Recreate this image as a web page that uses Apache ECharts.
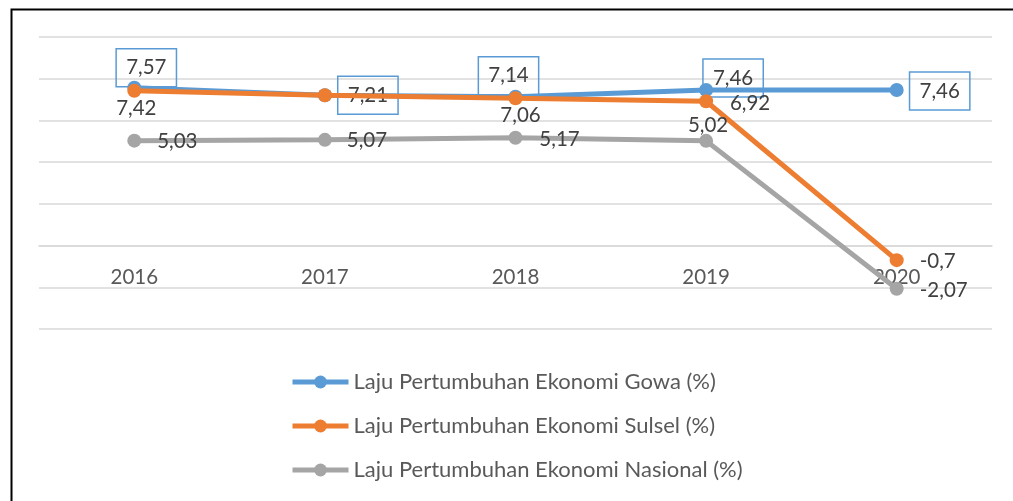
<!DOCTYPE html>
<html>
<head>
<meta charset="utf-8">
<script src="https://cdn.jsdelivr.net/npm/echarts@6/dist/echarts.min.js"></script>
<style>html,body{margin:0;padding:0;background:#fff}#c{width:1013px;height:501px}</style>
</head>
<body>
<div id="c"></div>
<script>
const categories = ['2016', '2017', '2018', '2019', '2020'];
const gowa = [7.57, 7.21, 7.14, 7.46, 7.46];
const sulsel = [7.42, 7.21, 7.06, 6.92, -0.7];
const nasional = [5.03, 5.07, 5.17, 5.02, -2.07];
const seriesNames = ['Laju Pertumbuhan Ekonomi Gowa (%)', 'Laju Pertumbuhan Ekonomi Sulsel (%)', 'Laju Pertumbuhan Ekonomi Nasional (%)'];
const yTicks = { min: -4, max: 10, interval: 2 };

// label centre offsets from each point (style only)
const gowaOff = [[12, -20], [43, 0], [-7, -21], [27, -12], [43, 1]];
const sulselOff = [[2, 18], null, [5, 17], [44, 2], [41, 1]];
const nasOff = [[43, 1], [42, 1], [44, 2], [2, -15], [47, 2]];

const fmt = v => String(v).replace('.', ',');
const FONT = 'Lato';

function build(values, offs, boxed) {
  return values.map((v, i) => {
    const o = offs[i];
    if (!o) return { value: v, label: { show: false } };
    const lab = {
      show: true, position: 'inside', offset: o, align: 'center', verticalAlign: 'middle',
      formatter: () => fmt(v), fontSize: 20.5, color: '#404040', fontFamily: FONT
    };
    if (boxed) {
      Object.assign(lab, { borderColor: '#5B9BD5', borderWidth: 1.5, padding: [9, 10, 8, 10] });
    }
    return { value: v, label: lab };
  });
}

const chart = echarts.init(document.getElementById('c'));
chart.setOption({
  animation: false,
  textStyle: { fontFamily: FONT },
  graphic: [{
    type: 'rect', left: 9, top: 7, silent: true,
    shape: { x: 0, y: 0, width: 1100, height: 600 },
    style: { fill: 'none', stroke: '#000', lineWidth: 2 }
  }],
  grid: { left: 39, right: 21, top: 37, bottom: 172, containLabel: false },
  legend: {
    orient: 'vertical', left: 285, top: 366, itemWidth: 56, itemHeight: 16, itemGap: 22,
    lineStyle: { width: 5 },
    textStyle: { fontSize: 22, color: '#595959', fontFamily: FONT },
    data: seriesNames
  },
  xAxis: {
    type: 'category', data: categories, boundaryGap: true, position: 'bottom', offset: -83,
    axisLine: { show: true, onZero: false, lineStyle: { color: '#D9D9D9', width: 1.5 } },
    axisTick: { show: false },
    axisLabel: { fontSize: 20.5, color: '#595959', margin: 21, fontFamily: FONT }
  },
  yAxis: {
    type: 'value', min: yTicks.min, max: yTicks.max, interval: yTicks.interval,
    axisLabel: { show: false }, axisLine: { show: false }, axisTick: { show: false },
    splitLine: { lineStyle: { color: '#D9D9D9', width: 1.5 } }
  },
  series: [
    { name: seriesNames[0], type: 'line', data: build(gowa, gowaOff, true), symbol: 'circle', symbolSize: 14,
      itemStyle: { color: '#5B9BD5' }, lineStyle: { color: '#5B9BD5', width: 5 }, z: 2 },
    { name: seriesNames[1], type: 'line', data: build(sulsel, sulselOff, false), symbol: 'circle', symbolSize: 14,
      itemStyle: { color: '#ED7D31' }, lineStyle: { color: '#ED7D31', width: 5 }, z: 3 },
    { name: seriesNames[2], type: 'line', data: build(nasional, nasOff, false), symbol: 'circle', symbolSize: 14,
      itemStyle: { color: '#A5A5A5' }, lineStyle: { color: '#A5A5A5', width: 5 }, z: 4 }
  ]
});
</script>
</body>
</html>
